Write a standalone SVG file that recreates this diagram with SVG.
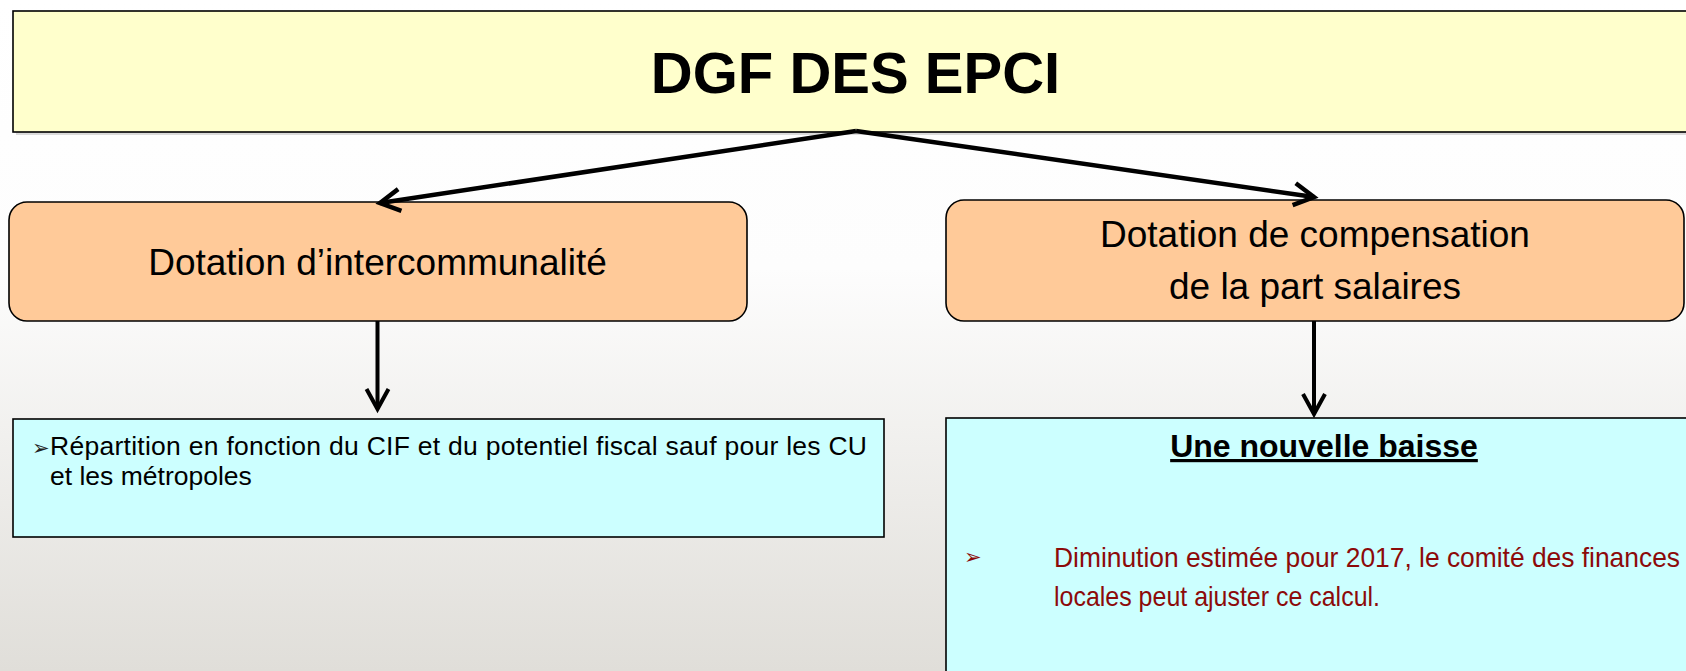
<svg xmlns="http://www.w3.org/2000/svg" width="1686" height="671" viewBox="0 0 1686 671">
  <style>
    .txt { font-family: "Liberation Sans", Arial, sans-serif; fill: #000; }
    .title { font-size: 58px; font-weight: bold; }
    .head { font-size: 37px; }
    .body { font-size: 26.5px; }
    .red { font-size: 28px; fill: #8C0A0A; }
    .sub { font-size: 32px; font-weight: bold; text-decoration: underline; }
    .bul { font-family: "DejaVu Sans", sans-serif; }
    .frame { stroke: #000; stroke-width: 1.6; }
    .conn { fill: none; stroke: #000; }
  </style>
  <defs>
    <linearGradient id="bg" x1="0" y1="0" x2="0" y2="1">
      <stop offset="0" stop-color="#ffffff"/>
      <stop offset="0.4" stop-color="#fdfdfd"/>
      <stop offset="1" stop-color="#e0ded9"/>
    </linearGradient>
    <marker id="vhead" markerUnits="userSpaceOnUse" orient="auto" refX="0" refY="0" markerWidth="40" markerHeight="40" viewBox="-30 -20 40 40" overflow="visible">
      <path d="M-20,-11 L0,0 L-20,11" fill="none" stroke="#000" stroke-width="4.5" stroke-linejoin="miter"/>
    </marker>
    <marker id="vhead2" markerUnits="userSpaceOnUse" orient="auto" refX="0" refY="0" markerWidth="40" markerHeight="40" viewBox="-30 -20 40 40" overflow="visible">
      <path d="M-20,-11 L0,0 L-20,11" fill="none" stroke="#000" stroke-width="4" stroke-linejoin="miter"/>
    </marker>
  </defs>

  <!-- background -->
  <rect x="0" y="0" width="1686" height="671" fill="url(#bg)"/>

  <!-- top title -->
  <g id="title">
    <rect x="16" y="14" width="1690" height="121" fill="#9a9a9a" opacity="0.35"/>
    <rect x="13" y="11" width="1690" height="121" fill="#FFFFCC" class="frame"/>
    <text x="855.5" y="93" text-anchor="middle" class="txt title">DGF DES EPCI</text>
  </g>

  <!-- first level -->
  <g id="dotation-intercommunalite">
    <rect x="9" y="202" width="738" height="119" rx="18" ry="18" fill="#FFCA99" class="frame"/>
    <text x="377.5" y="275" text-anchor="middle" class="txt head">Dotation d’intercommunalité</text>
  </g>

  <g id="dotation-compensation">
    <rect x="946" y="200" width="738" height="121" rx="18" ry="18" fill="#FFCA99" class="frame"/>
    <text x="1315" y="247" text-anchor="middle" class="txt head">Dotation de compensation</text>
    <text x="1315" y="299" text-anchor="middle" class="txt head">de la part salaires</text>
  </g>

  <!-- second level -->
  <g id="repartition">
    <rect x="13" y="419" width="871" height="118" fill="#CCFFFF" class="frame"/>
    <text x="32" y="455" class="bul" font-size="21" fill="#222">➢</text>
    <text x="50" y="455" class="txt body" textLength="817" lengthAdjust="spacing">Répartition en fonction du CIF et du potentiel fiscal sauf pour les CU</text>
    <text x="50" y="485" class="txt body">et les métropoles</text>
  </g>

  <g id="baisse">
    <rect x="946" y="418" width="760" height="270" fill="#CCFFFF" class="frame"/>
    <text x="1324" y="457" text-anchor="middle" class="txt sub">Une nouvelle baisse</text>
    <text x="964" y="564" class="bul" font-size="21" fill="#8C0A0A">➢</text>
    <text x="1054" y="567" class="txt red" textLength="626" lengthAdjust="spacingAndGlyphs">Diminution estimée pour 2017, le comité des finances</text>
    <text x="1054" y="606" class="txt red" textLength="326" lengthAdjust="spacingAndGlyphs">locales peut ajuster ce calcul.</text>
  </g>

  <!-- connectors -->
  <g id="connectors">
    <line x1="856" y1="131" x2="380" y2="203" class="conn" stroke-width="4.5" marker-end="url(#vhead)"/>
    <line x1="856" y1="131" x2="1314" y2="197" class="conn" stroke-width="4.5" marker-end="url(#vhead)"/>
    <line x1="377.5" y1="321" x2="377.5" y2="409" class="conn" stroke-width="4" marker-end="url(#vhead2)"/>
    <line x1="1314" y1="321" x2="1314" y2="414" class="conn" stroke-width="4" marker-end="url(#vhead2)"/>
  </g>
</svg>
